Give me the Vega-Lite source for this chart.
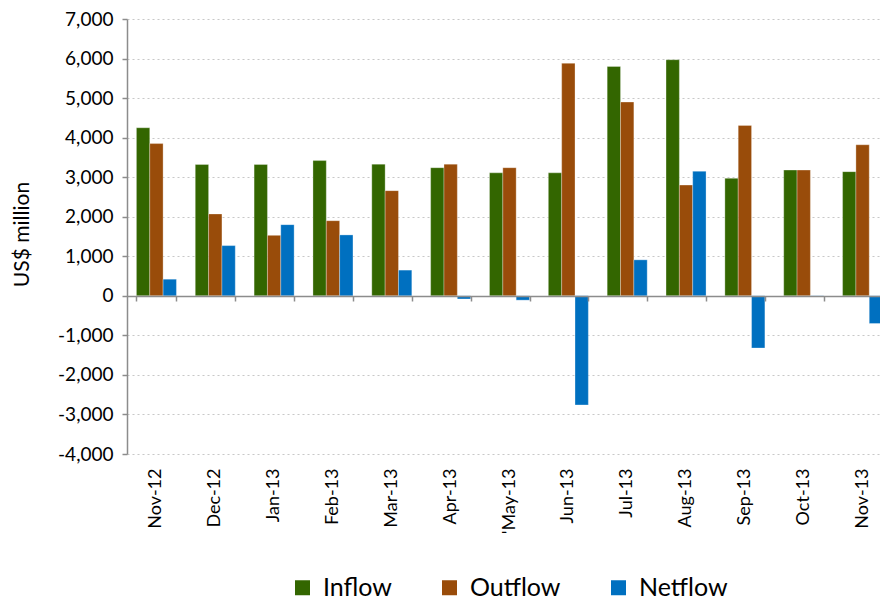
{
  "$schema": "https://vega.github.io/schema/vega-lite/v6.json",
  "autosize": {"type": "none"},
  "padding": {"left": 127, "top": 19, "right": 0, "bottom": 153},
  "width": 753,
  "height": 435,
  "background": "white",
  "config": {
    "view": {"stroke": null},
    "font": "Lato",
    "axis": {"labelFont": "Lato", "titleFont": "Lato", "labelColor": "#000000", "titleColor": "#000000"},
    "legend": {"labelFont": "Lato"}
  },
  "datasets": {
    "flows": [
      {"month": "Nov-12", "series": "Inflow", "value": 4250},
      {"month": "Nov-12", "series": "Outflow", "value": 3850},
      {"month": "Nov-12", "series": "Netflow", "value": 420},
      {"month": "Dec-12", "series": "Inflow", "value": 3320},
      {"month": "Dec-12", "series": "Outflow", "value": 2070},
      {"month": "Dec-12", "series": "Netflow", "value": 1270},
      {"month": "Jan-13", "series": "Inflow", "value": 3320},
      {"month": "Jan-13", "series": "Outflow", "value": 1530},
      {"month": "Jan-13", "series": "Netflow", "value": 1800},
      {"month": "Feb-13", "series": "Inflow", "value": 3420},
      {"month": "Feb-13", "series": "Outflow", "value": 1900},
      {"month": "Feb-13", "series": "Netflow", "value": 1540},
      {"month": "Mar-13", "series": "Inflow", "value": 3330},
      {"month": "Mar-13", "series": "Outflow", "value": 2660},
      {"month": "Mar-13", "series": "Netflow", "value": 650},
      {"month": "Apr-13", "series": "Inflow", "value": 3240},
      {"month": "Apr-13", "series": "Outflow", "value": 3330},
      {"month": "Apr-13", "series": "Netflow", "value": -80},
      {"month": "'May-13", "series": "Inflow", "value": 3110},
      {"month": "'May-13", "series": "Outflow", "value": 3240},
      {"month": "'May-13", "series": "Netflow", "value": -110},
      {"month": "Jun-13", "series": "Inflow", "value": 3110},
      {"month": "Jun-13", "series": "Outflow", "value": 5880},
      {"month": "Jun-13", "series": "Netflow", "value": -2760},
      {"month": "Jul-13", "series": "Inflow", "value": 5800},
      {"month": "Jul-13", "series": "Outflow", "value": 4900},
      {"month": "Jul-13", "series": "Netflow", "value": 910},
      {"month": "Aug-13", "series": "Inflow", "value": 5970},
      {"month": "Aug-13", "series": "Outflow", "value": 2800},
      {"month": "Aug-13", "series": "Netflow", "value": 3150},
      {"month": "Sep-13", "series": "Inflow", "value": 2970},
      {"month": "Sep-13", "series": "Outflow", "value": 4310},
      {"month": "Sep-13", "series": "Netflow", "value": -1320},
      {"month": "Oct-13", "series": "Inflow", "value": 3180},
      {"month": "Oct-13", "series": "Outflow", "value": 3180},
      {"month": "Oct-13", "series": "Netflow", "value": -20},
      {"month": "Nov-13", "series": "Inflow", "value": 3140},
      {"month": "Nov-13", "series": "Outflow", "value": 3820},
      {"month": "Nov-13", "series": "Netflow", "value": -700}
    ]
  },
  "data": {"name": "flows"},
  "resolve": {"axis": {"x": "independent"}},
  "layer": [
    {
      "mark": {"type": "bar", "stroke": "#ffffff", "strokeWidth": 0.6, "strokeOpacity": 0.5},
      "encoding": {
        "x": {
          "field": "month",
          "type": "nominal",
          "sort": null,
          "scale": {"range": [0, 765], "paddingInner": 0.32, "paddingOuter": 0.16},
          "axis": {
            "orient": "bottom",
            "offset": -158,
            "labels": false,
            "title": null,
            "grid": false,
            "domain": true,
            "domainColor": "#8c8c8c",
            "domainWidth": 1.5,
            "ticks": true,
            "tickBand": "extent",
            "tickColor": "#8c8c8c",
            "tickWidth": 1.5,
            "tickSize": 5,
            "zindex": 1
          }
        },
        "xOffset": {
          "field": "series",
          "type": "nominal",
          "sort": ["Inflow", "Outflow", "Netflow"],
          "scale": {"paddingInner": 0, "paddingOuter": 0}
        },
        "y": {
          "field": "value",
          "type": "quantitative",
          "scale": {"domain": [-4000, 7000], "nice": false, "zero": false},
          "axis": {
            "values": [-4000, -3000, -2000, -1000, 0, 1000, 2000, 3000, 4000, 5000, 6000, 7000],
            "labelExpr": "replace(format(datum.value, ',d'), '\u2212', '-')",
            "labelOverlap": false,
            "title": "US$ million",
            "titleFontSize": 21,
            "titleFontWeight": "normal",
            "titleX": -95,
            "titleY": 215,
            "titleAngle": 270,
            "titleAlign": "center",
            "titleBaseline": "bottom",
            "labelFontSize": 19,
            "labelPadding": 9,
            "domainColor": "#8c8c8c",
            "domainWidth": 1.5,
            "tickColor": "#8c8c8c",
            "tickWidth": 1.5,
            "tickSize": 5,
            "grid": true,
            "gridColor": "#c8c8c8",
            "gridDash": [2, 3],
            "gridWidth": 1.2
          }
        },
        "color": {
          "field": "series",
          "type": "nominal",
          "sort": ["Inflow", "Outflow", "Netflow"],
          "scale": {"domain": ["Inflow", "Outflow", "Netflow"], "range": ["#336600", "#994c0a", "#0070c0"]},
          "legend": {
            "title": null,
            "orient": "none",
            "direction": "horizontal",
            "legendX": 163,
            "legendY": 556,
            "symbolType": "square",
            "symbolSize": 225,
            "symbolStrokeWidth": 0,
            "symbolOpacity": 1,
            "labelFontSize": 25,
            "labelColor": "#000000",
            "labelOffset": 8,
            "columnPadding": 45
          }
        }
      }
    },
    {
      "mark": {"type": "point", "opacity": 0},
      "encoding": {
        "x": {
          "field": "month",
          "type": "nominal",
          "sort": null,
          "axis": {
            "orient": "bottom",
            "offset": 0,
            "title": null,
            "grid": false,
            "domain": false,
            "ticks": false,
            "labelAngle": -90,
            "labelFontSize": 18,
            "labelPadding": 14,
            "labelColor": "#000000"
          }
        }
      }
    }
  ]
}
